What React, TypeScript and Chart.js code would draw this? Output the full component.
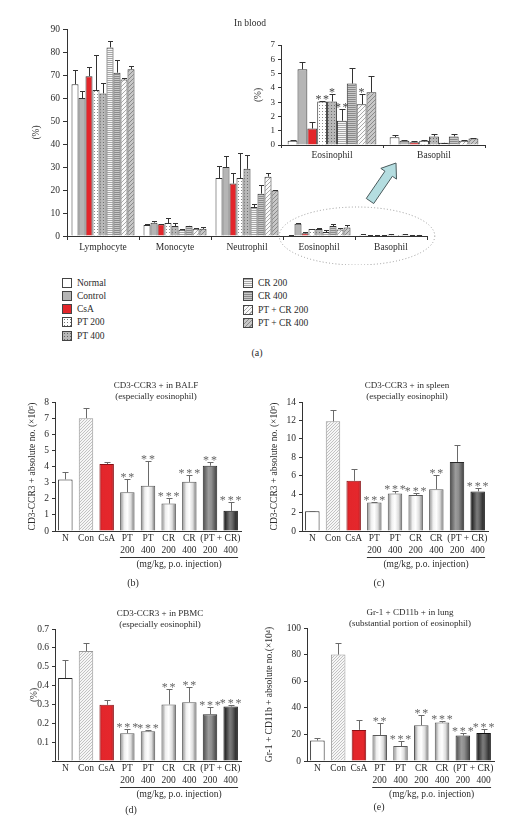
import React, { useEffect, useRef } from "react";
import { Chart, registerables } from "chart.js";

Chart.register(...registerables);

const SERIF = "'Liberation Serif', 'Times New Roman', serif";
const INK = "#2b2b2b";

// ---------------- Panel (a): In blood ----------------
const bloodCategories = ["Lymphocyte", "Monocyte", "Neutrophil", "Eosinophil", "Basophil"];
const insetCategories = ["Eosinophil", "Basophil"];
const bloodGroups = ["Normal", "Control", "CsA", "PT 200", "PT 400", "CR 200", "CR 400", "PT + CR 200", "PT + CR 400"];

const bloodNormal = [66, 4.8, 25.2, 0.3, 0.55];
const bloodNormalErr = [6, 0.3, 5.4, 0.07, 0.15];
const bloodControl = [60, 5.8, 30, 5.3, 0.3];
const bloodControlErr = [3, 0.7, 4.8, 0.5, 0.05];
const bloodCsA = [69.5, 5.1, 22.8, 1.15, 0.2];
const bloodCsAErr = [4, 0.3, 4.5, 0.45, 0.05];
const bloodPT200 = [63.5, 5.6, 25.2, 3.05, 0.3];
const bloodPT200Err = [15, 2.4, 10.7, 0.05, 0.05];
const bloodPT400 = [62, 4.3, 29.2, 3.05, 0.6];
const bloodPT400Err = [4.5, 1.3, 6.2, 0.55, 0.2];
const bloodCR200 = [82, 2.7, 12.6, 1.7, 0.15];
const bloodCR200Err = [3, 0.2, 1.3, 0.85, 0.02];
const bloodCR400 = [71, 4.4, 18.4, 4.3, 0.6];
const bloodCR400Err = [5.5, 0.15, 3.8, 1.1, 0.2];
const bloodPTCR200 = [68, 3.1, 25.8, 2.85, 0.3];
const bloodPTCR200Err = [0.5, 0.2, 1.5, 0.75, 0.05];
const bloodPTCR400 = [72.5, 3.1, 19.8, 3.7, 0.45];
const bloodPTCR400Err = [1.5, 0.8, 0.4, 1.1, 0.02];
const eosinophilSig = ["", "", "", "**", "*", "**", "", "*", ""];

const bloodValues = [bloodNormal, bloodControl, bloodCsA, bloodPT200, bloodPT400, bloodCR200, bloodCR400, bloodPTCR200, bloodPTCR400];
const bloodErrors = [bloodNormalErr, bloodControlErr, bloodCsAErr, bloodPT200Err, bloodPT400Err, bloodCR200Err, bloodCR400Err, bloodPTCR200Err, bloodPTCR400Err];

const bloodTicks = { max: 90, step: 10 };
const insetTicks = { max: 7, step: 1 };

// ---------------- Panels (b)-(e) ----------------
const treatLabels = [["N"], ["Con"], ["CsA"], ["PT", "200"], ["PT", "400"], ["CR", "200"], ["CR", "400"], ["", "200"], ["", "400"]];
const comboLabel = "(PT + CR)";
const doseNote = "(mg/kg, p.o. injection)";

const balfValues = [3.2, 7.0, 4.15, 2.4, 2.8, 1.7, 3.05, 4.05, 1.25];
const balfErrors = [0.45, 0.6, 0.1, 0.8, 1.55, 0.35, 0.45, 0.2, 0.52];
const balfSig = ["", "", "", "**", "**", "***", "***", "**", "***"];

const spleenValues = [2.15, 11.9, 5.45, 3.1, 4.07, 3.9, 4.54, 7.5, 4.3];
const spleenErrors = [0.05, 1.2, 1.3, 0.07, 0.28, 0.25, 1.5, 1.85, 0.35];
const spleenSig = ["", "", "", "***", "***", "***", "**", "", "***"];

const pbmcValues = [0.44, 0.583, 0.298, 0.147, 0.158, 0.3, 0.312, 0.248, 0.289];
const pbmcErrors = [0.094, 0.043, 0.023, 0.023, 0.007, 0.083, 0.078, 0.036, 0.009];
const pbmcSig = ["", "", "", "***", "***", "**", "**", "***", "***"];

const lungValues = [15.4, 80, 23.4, 19.6, 11.2, 26.9, 28.9, 19.1, 21.1];
const lungErrors = [1.8, 8.8, 7.4, 8.8, 3.9, 7.4, 1.0, 1.8, 2.8];
const lungSig = ["", "", "", "**", "***", "**", "***", "***", "***"];

// ---------------- helpers ----------------
function makePattern(size: number, bg: string, fg: string, kind: string) {
  const cv = document.createElement("canvas");
  cv.width = size;
  cv.height = size;
  const g = cv.getContext("2d")!;
  g.fillStyle = bg;
  g.fillRect(0, 0, size, size);
  g.fillStyle = fg;
  if (kind === "dot") g.fillRect(1, 1, 1, 1);
  if (kind === "hline") g.fillRect(0, 0, size, 1);
  if (kind === "diag") for (let i = 0; i < size; i++) g.fillRect(i, size - 1 - i, 1, 1);
  return g.createPattern(cv, "repeat")!;
}

const errorBarPlugin = {
  id: "errorBars",
  afterDatasetsDraw(chart: any, _args: any, opts: any) {
    const { ctx } = chart;
    const y = chart.scales.y;
    chart.data.datasets.forEach((ds: any, di: number) => {
      const meta = chart.getDatasetMeta(di);
      meta.data.forEach((bar: any, j: number) => {
        const v = ds.data[j];
        const e = ds.errors ? ds.errors[j] : 0;
        const top = Math.round(y.getPixelForValue(v + (e || 0))) + 0.5;
        ctx.save();
        if (e) {
          const xx = Math.round(bar.x) + 0.5;
          ctx.strokeStyle = opts.color;
          ctx.lineWidth = 1;
          ctx.beginPath();
          ctx.moveTo(xx, bar.y);
          ctx.lineTo(xx, top);
          ctx.moveTo(xx - opts.cap, top);
          ctx.lineTo(xx + opts.cap, top);
          ctx.stroke();
        }
        const s = ds.sig ? ds.sig[j] : "";
        if (s) {
          ctx.fillStyle = opts.sigColor;
          ctx.font = opts.sigFont;
          const sp = opts.sigSpacing || 0;
          try { (ctx as any).letterSpacing = sp + "px"; } catch (err) { /* ignore */ }
          ctx.textAlign = "center";
          ctx.textBaseline = "alphabetic";
          ctx.fillText(s, bar.x + sp / 2, top + opts.sigShift);
        }
        ctx.restore();
      });
    });
  },
};

const ellipseArrowPlugin = {
  id: "ellipseArrow",
  afterDraw(chart: any) {
    const { ctx } = chart;
    const x = chart.scales.x;
    const y = chart.scales.y;
    const cw = x.getPixelForValue(1) - x.getPixelForValue(0);
    const cx = (x.getPixelForValue(3) + x.getPixelForValue(4)) / 2 + 2;
    const cy = y.getPixelForValue(0);
    ctx.save();
    ctx.strokeStyle = "#9a9a9a";
    ctx.lineWidth = 1;
    ctx.setLineDash([1, 2.2]);
    ctx.beginPath();
    ctx.ellipse(cx, cy, cw * 1.08, 29, 0, 0, Math.PI * 2);
    ctx.stroke();
    ctx.setLineDash([]);
    // arrow pointing to the inset
    const tx = cx + 13, ty = cy - 35;
    const hx = cx + 39, hy = cy - 73;
    const len = Math.hypot(hx - tx, hy - ty);
    const dx = (hx - tx) / len, dy = (hy - ty) / len;
    const nx = -dy, ny = dx;
    const sw = 4.5, hw = 9.5, hl = 13;
    const bx = hx - dx * hl, by = hy - dy * hl;
    ctx.beginPath();
    ctx.moveTo(tx + nx * sw, ty + ny * sw);
    ctx.lineTo(bx + nx * sw, by + ny * sw);
    ctx.lineTo(bx + nx * hw, by + ny * hw);
    ctx.lineTo(hx, hy);
    ctx.lineTo(bx - nx * hw, by - ny * hw);
    ctx.lineTo(bx - nx * sw, by - ny * sw);
    ctx.lineTo(tx - nx * sw, ty - ny * sw);
    ctx.closePath();
    ctx.fillStyle = "#b4dde0";
    ctx.fill();
    ctx.strokeStyle = "#4a5a5c";
    ctx.stroke();
    ctx.restore();
  },
};

const groupAxisPlugin = {
  id: "groupAxis",
  afterDraw(chart: any, _args: any, opts: any) {
    const { ctx } = chart;
    const x = chart.scales.x;
    const base = chart.chartArea.bottom;
    const cw = x.getPixelForValue(1) - x.getPixelForValue(0);
    ctx.save();
    ctx.fillStyle = INK;
    ctx.font = `9.5px ${SERIF}`;
    ctx.textAlign = "center";
    ctx.textBaseline = "middle";
    ctx.fillText(comboLabel, (x.getPixelForValue(7) + x.getPixelForValue(8)) / 2, base + 7.7);
    const x0 = x.getPixelForValue(3) - cw * 0.36;
    const x1 = x.getPixelForValue(8) + cw * 0.36;
    ctx.strokeStyle = "#333";
    ctx.lineWidth = 1;
    ctx.beginPath();
    ctx.moveTo(x0, Math.round(base + 26) + 0.5);
    ctx.lineTo(x1, Math.round(base + 26) + 0.5);
    ctx.stroke();
    ctx.fillText(doseNote, (x0 + x1) / 2, base + 33.5);
    // panel heading
    if (opts && opts.lines) {
      ctx.font = `9px ${SERIF}`;
      opts.lines.forEach((t: string, i: number) => {
        ctx.fillText(t, opts.cx, opts.cy + i * 11);
      });
    }
    ctx.restore();
  },
};

type PanelCfg = {
  values: number[];
  errors: number[];
  sig: string[];
  max: number;
  step: number;
  yTitle: string;
  heading: string[];
  headX: number;
  headY: number;
  padLeft: number;
  padRight: number;
  padTop: number;
  padBottom: number;
  yWidth: number;
  titlePad: number;
  hideZero?: boolean;
};

function makeGroupChart(canvas: HTMLCanvasElement, cfg: PanelCfg) {
  const conHatch = makePattern(3, "#f6f6f6", "#c2c2c2", "diag");
  const gradStops: Record<string, [number, string][]> = {
    red: [[0, "#b01a1f"], [0.18, "#e3262b"], [0.8, "#e5272c"], [1, "#a8161b"]],
    silver: [[0, "#858585"], [0.28, "#efefef"], [0.5, "#ffffff"], [0.75, "#dcdcdc"], [1, "#6c6c6c"]],
    dark1: [[0, "#4a4a4a"], [0.4, "#9c9c9c"], [0.6, "#8e8e8e"], [1, "#3c3c3c"]],
    dark2: [[0, "#0c0c0c"], [0.45, "#7c7c7c"], [0.6, "#6a6a6a"], [1, "#121212"]],
  };
  const kinds = ["white", "hatch", "red", "silver", "silver", "silver", "silver", "dark1", "dark2"];
  const borders = ["#222", "#999", "#8a1014", "#5a5a5a", "#5a5a5a", "#5a5a5a", "#5a5a5a", "#2a2a2a", "#111"];
  const BAR_PCT = 0.7;
  const fill = (c: any) => {
    const k = kinds[c.dataIndex];
    if (k === "white") return "#ffffff";
    if (k === "hatch") return conHatch;
    const xs = c.chart.scales.x;
    if (!xs) return "#ccc";
    const cw = xs.getPixelForValue(1) - xs.getPixelForValue(0);
    const cx = xs.getPixelForValue(c.dataIndex);
    const w = cw * BAR_PCT;
    const g = c.chart.ctx.createLinearGradient(cx - w / 2, 0, cx + w / 2, 0);
    gradStops[k].forEach(([o, col]) => g.addColorStop(o, col));
    return g;
  };
  const font = { family: SERIF, size: 9.5 };
  return new Chart(canvas, {
    type: "bar",
    data: {
      labels: treatLabels,
      datasets: [
        {
          data: cfg.values,
          errors: cfg.errors,
          sig: cfg.sig,
          backgroundColor: fill,
          borderColor: (c: any) => borders[c.dataIndex],
          borderWidth: 1,
          barPercentage: BAR_PCT,
          categoryPercentage: 1,
        } as any,
      ],
    },
    options: {
      animation: false,
      responsive: false,
      events: [],
      layout: { padding: { left: cfg.padLeft, right: cfg.padRight, top: cfg.padTop, bottom: cfg.padBottom } },
      plugins: {
        legend: { display: false },
        tooltip: { enabled: false },
        errorBars: { color: "#6a6a6a", cap: 3, sigColor: "#666", sigFont: `12px ${SERIF}`, sigSpacing: 1.8, sigShift: 1 },
        groupAxis: { lines: cfg.heading, cx: cfg.headX, cy: cfg.headY },
      } as any,
      scales: {
        x: {
          grid: { display: false, drawTicks: false },
          border: { color: "#333", width: 1 },
          ticks: { font, color: INK, padding: 2, maxRotation: 0, autoSkip: false },
          afterFit: (s: any) => { s.height = 25; },
        },
        y: {
          min: 0,
          max: cfg.max,
          ticks: {
            stepSize: cfg.step,
            font,
            color: INK,
            padding: 3,
            callback: (v: any) => (cfg.hideZero && Number(v) === 0 ? "" : Math.round(Number(v) * 100) / 100),
          },
          grid: { drawOnChartArea: false, tickLength: 3, color: "#333" },
          border: { color: "#333", width: 1 },
          title: { display: true, text: cfg.yTitle, font, color: INK, padding: { top: cfg.titlePad, bottom: 0 } },
          afterFit: (s: any) => { s.width = cfg.yWidth; },
        },
      },
    } as any,
    plugins: [errorBarPlugin, groupAxisPlugin],
  });
}

const legendSwatchCss = [
  "#ffffff",
  "#b5b5b5",
  "#e3262b",
  "radial-gradient(circle, #777 0.7px, transparent 0.9px) 0 0 / 3px 3px, #ffffff",
  "radial-gradient(circle, #666 0.7px, transparent 0.9px) 0 0 / 3px 3px, #b8b8b8",
  "repeating-linear-gradient(180deg, #a8a8a8 0 1px, #f6f6f6 1px 2px)",
  "repeating-linear-gradient(180deg, #8a8a8a 0 1px, #c8c8c8 1px 2px)",
  "repeating-linear-gradient(135deg, #a8a8a8 0 1px, #fafafa 1px 3px)",
  "repeating-linear-gradient(135deg, #8a8a8a 0 1px, #c8c8c8 1px 3px)",
];

function Txt(props: { x: number; y: number; children: React.ReactNode; size?: number }) {
  return (
    <div
      style={{
        position: "absolute",
        left: Math.round(props.x - 100),
        top: Math.round(props.y - 6),
        width: 200,
        height: 12,
        whiteSpace: "nowrap",
        fontSize: props.size || 9.5,
        lineHeight: "12px",
        fontFamily: SERIF,
        color: INK,
        textAlign: "center",
      }}
    >
      {props.children}
    </div>
  );
}

export default function App() {
  const mainRef = useRef<HTMLCanvasElement>(null);
  const insetRef = useRef<HTMLCanvasElement>(null);
  const bRef = useRef<HTMLCanvasElement>(null);
  const cRef = useRef<HTMLCanvasElement>(null);
  const dRef = useRef<HTMLCanvasElement>(null);
  const eRef = useRef<HTMLCanvasElement>(null);

  useEffect(() => {
    Chart.defaults.font.family = SERIF;
    const charts: Chart[] = [];
    const fills = [
      "#ffffff",
      "#b5b5b5",
      "#e3262b",
      makePattern(3, "#ffffff", "#8a8a8a", "dot"),
      makePattern(3, "#b8b8b8", "#6e6e6e", "dot"),
      makePattern(2, "#f6f6f6", "#a8a8a8", "hline"),
      makePattern(2, "#c8c8c8", "#8a8a8a", "hline"),
      makePattern(4, "#fafafa", "#aaaaaa", "diag"),
      makePattern(4, "#c8c8c8", "#8a8a8a", "diag"),
    ];
    const font = { family: SERIF, size: 9.5 };

    // main blood chart
    charts.push(
      new Chart(mainRef.current!, {
        type: "bar",
        data: {
          labels: bloodCategories,
          datasets: bloodGroups.map((name, i) => ({
            label: name,
            data: bloodValues[i],
            errors: bloodErrors[i],
            backgroundColor: fills[i],
            borderColor: "#333",
            borderWidth: 1,
            categoryPercentage: 0.875,
            barPercentage: 1,
          })) as any,
        },
        options: {
          animation: false,
          responsive: false,
          events: [],
          layout: { padding: { left: 20, right: 86, top: 29, bottom: 3 } },
          plugins: {
            legend: { display: false },
            tooltip: { enabled: false },
            errorBars: { color: "#333", cap: 2.5, sigColor: "#333", sigFont: `10px ${SERIF}`, sigSpacing: 0, sigShift: 2 },
          } as any,
          scales: {
            x: {
              grid: { display: true, drawOnChartArea: false, drawTicks: true, tickLength: 4, color: "#333", offset: true },
              border: { color: "#333" },
              ticks: { font, color: INK, padding: 2, maxRotation: 0 },
              afterFit: (s: any) => { s.height = 26; },
            },
            y: {
              min: 0,
              max: bloodTicks.max,
              ticks: { stepSize: bloodTicks.step, font, color: INK, padding: 3 },
              grid: { drawOnChartArea: false, tickLength: 4, color: "#333" },
              border: { color: "#333" },
              title: { display: true, text: "(%)", font, color: INK, padding: { top: 11, bottom: 0 } },
              afterFit: (s: any) => { s.width = 47; },
            },
          },
        } as any,
        plugins: [errorBarPlugin, ellipseArrowPlugin],
      })
    );

    // inset chart: eosinophil and basophil
    charts.push(
      new Chart(insetRef.current!, {
        type: "bar",
        data: {
          labels: insetCategories,
          datasets: bloodGroups.map((name, i) => ({
            label: name,
            data: bloodValues[i].slice(3),
            errors: bloodErrors[i].slice(3),
            sig: [eosinophilSig[i], ""],
            backgroundColor: fills[i],
            borderColor: "#333",
            borderWidth: 1,
            categoryPercentage: 0.87,
            barPercentage: 1,
          })) as any,
        },
        options: {
          animation: false,
          responsive: false,
          events: [],
          layout: { padding: { left: 5, right: 28, top: 10, bottom: 3 } },
          plugins: {
            legend: { display: false },
            tooltip: { enabled: false },
            errorBars: { color: "#333", cap: 3, sigColor: "#444", sigFont: `12px ${SERIF}`, sigSpacing: 1.5, sigShift: 1 },
          } as any,
          scales: {
            x: {
              grid: { display: true, drawOnChartArea: false, drawTicks: true, tickLength: 3, color: "#333", offset: true },
              border: { color: "#333" },
              ticks: { font, color: INK, padding: 2, maxRotation: 0 },
              afterFit: (s: any) => { s.height = 22; },
            },
            y: {
              min: 0,
              max: insetTicks.max,
              ticks: { stepSize: insetTicks.step, font: { family: SERIF, size: 9 }, color: INK, padding: 3 },
              grid: { drawOnChartArea: false, tickLength: 3, color: "#333" },
              border: { color: "#333" },
              title: { display: true, text: "(%)", font, color: INK, padding: { top: 8, bottom: 0 } },
              afterFit: (s: any) => { s.width = 36; },
            },
          },
        } as any,
        plugins: [errorBarPlugin],
      })
    );

    charts.push(
      makeGroupChart(bRef.current!, {
        values: balfValues, errors: balfErrors, sig: balfSig, max: 8, step: 1,
        yTitle: "CD3-CCR3 + absolute no. (×10⁵)",
        heading: ["CD3-CCR3 + in BALF", "(especially eosinophil)"], headX: 156, headY: 11,
        padLeft: 20, padRight: 14, padTop: 27, padBottom: 24, yWidth: 35, titlePad: 7,
      })
    );
    charts.push(
      makeGroupChart(cRef.current!, {
        values: spleenValues, errors: spleenErrors, sig: spleenSig, max: 14, step: 2,
        yTitle: "CD3-CCR3 + absolute no. (×10⁵)",
        heading: ["CD3-CCR3 + in spleen", "(especially eosinophil)"], headX: 152, headY: 11,
        padLeft: 5, padRight: 25, padTop: 27, padBottom: 24, yWidth: 42, titlePad: 9,
      })
    );
    charts.push(
      makeGroupChart(dRef.current!, {
        values: pbmcValues, errors: pbmcErrors, sig: pbmcSig, max: 0.7, step: 0.1,
        yTitle: "(%)", hideZero: true,
        heading: ["CD3-CCR3 + in PBMC", "(especially eosinophil)"], headX: 160, headY: 14,
        padLeft: 20, padRight: 14, padTop: 29, padBottom: 24, yWidth: 35, titlePad: 9,
      })
    );
    charts.push(
      makeGroupChart(eRef.current!, {
        values: lungValues, errors: lungErrors, sig: lungSig, max: 100, step: 10,
        yTitle: "Gr-1 + CD11b + absolute no.(×10⁴)",
        heading: ["Gr-1 + CD11b + in lung", "(substantial portion of eosinophil)"], headX: 155, headY: 13,
        padLeft: 3, padRight: 19, padTop: 28, padBottom: 24, yWidth: 49, titlePad: 6,
      })
    );

    return () => charts.forEach((c) => c.destroy());
  }, []);

  const col1 = bloodGroups.slice(0, 5);
  const col2 = bloodGroups.slice(5);

  return (
    <div style={{ position: "absolute", left: 0, top: 0, width: 513, height: 826, background: "#fff", overflow: "hidden" }}>
      <canvas ref={mainRef} width={513} height={265} style={{ position: "absolute", left: 0, top: 0, width: 513, height: 265 }} />
      <canvas ref={insetRef} width={273} height={135} style={{ position: "absolute", left: 240, top: 35, width: 273, height: 135 }} />
      <Txt x={250} y={23}>In blood</Txt>

      {col1.map((name, i) => (
        <div key={name} style={{ position: "absolute", left: 62, top: Math.round(277.5 + i * 13.3), height: 10, display: "flex", alignItems: "center" }}>
          <div style={{ width: 8, height: 8, border: "1px solid #444", background: legendSwatchCss[i] }} />
          <span style={{ marginLeft: 5, fontFamily: SERIF, fontSize: 9.5, color: INK, whiteSpace: "nowrap" }}>{name}</span>
        </div>
      ))}
      {col2.map((name, i) => (
        <div key={name} style={{ position: "absolute", left: 243, top: Math.round(278 + i * 13.3), height: 10, display: "flex", alignItems: "center" }}>
          <div style={{ width: 8, height: 8, border: "1px solid #444", background: legendSwatchCss[i + 5] }} />
          <span style={{ marginLeft: 5, fontFamily: SERIF, fontSize: 9.5, color: INK, whiteSpace: "nowrap" }}>{name}</span>
        </div>
      ))}
      <Txt x={257} y={353} size={10}>(a)</Txt>

      <canvas ref={bRef} width={255} height={205} style={{ position: "absolute", left: 0, top: 375, width: 255, height: 205 }} />
      <canvas ref={cRef} width={258} height={205} style={{ position: "absolute", left: 255, top: 375, width: 258, height: 205 }} />
      <canvas ref={dRef} width={255} height={210} style={{ position: "absolute", left: 0, top: 600, width: 255, height: 210 }} />
      <canvas ref={eRef} width={258} height={210} style={{ position: "absolute", left: 255, top: 600, width: 258, height: 210 }} />

      <Txt x={133} y={583} size={10}>(b)</Txt>
      <Txt x={379} y={583} size={10}>(c)</Txt>
      <Txt x={131} y={810} size={10}>(d)</Txt>
      <Txt x={379} y={807} size={10}>(e)</Txt>
    </div>
  );
}
